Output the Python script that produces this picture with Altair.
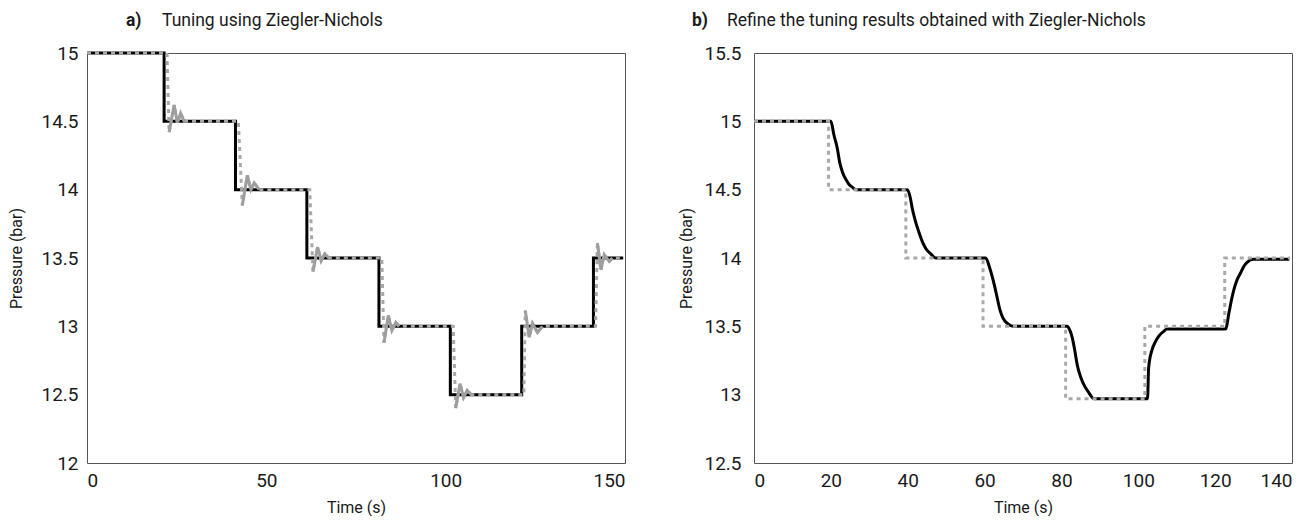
import altair as alt
import pandas as pd

FONT = "Roboto"

# ---------------- Panel a: Ziegler-Nichols tuning ----------------
a_title = ["a)", "Tuning using Ziegler-Nichols"]
a_x_ticks = [0, 50, 100, 150]
a_y_ticks = [12, 12.5, 13, 13.5, 14, 14.5, 15]

# set point (black, step)
a_sp_t = [0, 21.5, 41.4, 61.3, 81.4, 101.3, 121.2, 141.2, 149.5]
a_sp_p = [15, 14.5, 14, 13.5, 13, 12.5, 13, 13.5, 13.5]

# measured pressure (gray dashed, oscillating)
a_pv_t = [0, 22.3, 22.9, 24.3, 25.2, 26.1, 27.1,
          42.2, 43.3, 44.7, 45.7, 46.6, 48.0,
          62.1, 63.0, 64.3, 65.3, 66.3, 67.5,
          82.2, 82.8, 84.0, 85.0, 86.1, 87.0,
          102.1, 102.8, 104.0, 105.0, 106.0, 107.2,
          121.8, 122.2, 123.3, 124.2, 125.6, 127.0,
          141.8, 142.3, 143.3, 144.2, 145.6, 146.5, 149.5]
a_pv_p = [15, 15, 14.42, 14.62, 14.49, 14.56, 14.5,
          14.5, 13.885, 14.105, 14.0, 14.05, 14.0,
          14.0, 13.4, 13.58, 13.48, 13.53, 13.5,
          13.5, 12.88, 13.08, 12.97, 13.03, 13.0,
          13.0, 12.4, 12.58, 12.48, 12.53, 12.5,
          12.5, 13.115, 12.92, 13.02, 12.955, 13.0,
          13.0, 13.61, 13.415, 13.525, 13.475, 13.5, 13.5]
# oscillation burst each point belongs to (-1 = steady / step edge)
a_pv_osc = [-1, -1, 0, 0, 0, 0, 0,
            -1, 1, 1, 1, 1, 1,
            -1, 2, 2, 2, 2, 2,
            -1, 3, 3, 3, 3, 3,
            -1, 4, 4, 4, 4, 4,
            -1, 5, 5, 5, 5, 5,
            -1, 6, 6, 6, 6, 6, -1]

# ---------------- Panel b: refined tuning ----------------
b_title = ["b)", "Refine the tuning results obtained with Ziegler-Nichols"]
b_x_ticks = [0, 20, 40, 60, 80, 100, 120, 140]
b_y_ticks = [12.5, 13, 13.5, 14, 14.5, 15, 15.5]

# set point (gray dashed, step)
b_sp_t = [0, 19.4, 39.5, 59.6, 81.1, 101.7, 122.5, 139.5]
b_sp_p = [15, 14.5, 14, 13.5, 12.97, 13.5, 14, 14]

# measured pressure (black, smooth)
b_pv_t = [0, 20.0, 20.8, 21.7, 22.3, 23.0, 24.0, 24.7, 25.5, 26.5,
          39.9, 40.6, 41.2, 42.0, 42.9, 43.8, 44.7, 46.0, 47.3,
          60.3, 61.3, 62.3, 63.2, 64.0, 64.8, 66.0, 67.5,
          81.5, 82.2, 82.8, 83.5, 84.1, 85.0, 85.9, 87.0, 88.5,
          102.4, 102.7, 103.6, 104.5, 105.4, 106.5, 107.5,
          122.7, 123.6, 124.3, 124.9, 125.7, 126.6, 127.5, 128.4, 129.9, 139.3]
b_pv_p = [15, 15, 14.9, 14.8, 14.7, 14.63, 14.57, 14.54, 14.52, 14.5,
          14.5, 14.45, 14.36, 14.27, 14.19, 14.12, 14.07, 14.03, 14.0,
          14.0, 13.93, 13.83, 13.72, 13.62, 13.56, 13.52, 13.5,
          13.5, 13.47, 13.42, 13.32, 13.22, 13.13, 13.07, 13.02, 12.97,
          12.97, 13.2, 13.33, 13.39, 13.43, 13.46, 13.48,
          13.48, 13.6, 13.7, 13.77, 13.84, 13.89, 13.94, 13.97, 13.99, 13.99]

W, H = 538, 410
BLACK = "#000000"
GRAY = "#a8a8a8"
GRAY_OSC = "#9e9e9e"
TXT = "#1a1a1a"


def panel(sp_t, sp_p, pv_t, pv_p, osc, xdom, ydom, xt, yt, title, black_is_sp,
          lab_x, txt_x, ylabpad, ytitlepad):
    sp = pd.DataFrame({"t": sp_t, "p": sp_p})
    pv = pd.DataFrame({"t": pv_t, "p": pv_p})
    x = alt.X("t:Q", scale=alt.Scale(domain=xdom, nice=False, zero=False),
              axis=alt.Axis(values=xt, title="Time (s)", format="~r",
                            labelPadding=8, titlePadding=9))
    y = alt.Y("p:Q", scale=alt.Scale(domain=ydom, nice=False, zero=False),
              axis=alt.Axis(values=yt, title="Pressure (bar)", format="~r",
                            labelPadding=ylabpad, titlePadding=ytitlepad))
    layers = []
    if black_is_sp:
        layers.append(alt.Chart(sp).mark_line(color=BLACK, strokeWidth=3,
                                              interpolate="step-after").encode(x=x, y=y))
        layers.append(alt.Chart(pv).mark_line(color=GRAY, strokeWidth=3,
                                              strokeDash=[4, 4]).encode(x="t:Q", y="p:Q"))
        od = pd.DataFrame({"t": pv_t, "p": pv_p, "g": osc})
        od = od[od["g"] >= 0]
        layers.append(alt.Chart(od).mark_line(color=GRAY_OSC, strokeWidth=3).encode(
            x="t:Q", y="p:Q", detail="g:N"))
    else:
        layers.append(alt.Chart(pv).mark_line(color=BLACK, strokeWidth=3,
                                              interpolate="monotone").encode(x=x, y=y))
        layers.append(alt.Chart(sp).mark_line(color=GRAY, strokeWidth=3, strokeDash=[4, 4],
                                              interpolate="step-after").encode(x="t:Q", y="p:Q"))
    tdf = pd.DataFrame({"label": [title[0]]})
    tdf2 = pd.DataFrame({"label": [title[1]]})
    layers.append(alt.Chart(tdf).mark_text(align="left", baseline="alphabetic", font=FONT,
                                           fontSize=17.5, fontWeight="bold", color=TXT).encode(
        x=alt.value(lab_x), y=alt.value(-27), text="label:N"))
    layers.append(alt.Chart(tdf2).mark_text(align="left", baseline="alphabetic", font=FONT,
                                            fontSize=17.5, color=TXT).encode(
        x=alt.value(txt_x), y=alt.value(-27), text="label:N"))
    return alt.layer(*layers).properties(width=W, height=H)


pa = panel(a_sp_t, a_sp_p, a_pv_t, a_pv_p, a_pv_osc, [0, 150], [12, 15], a_x_ticks,
           a_y_ticks, a_title, True, 39, 75, 9, 16)
pb = panel(b_sp_t, b_sp_p, b_pv_t, b_pv_p, None, [0, 140], [12.5, 15.5], b_x_ticks,
           b_y_ticks, b_title, False, -62, -27, 13, 9)

chart = alt.hconcat(pa, pb, spacing=129, bounds="flush").properties(
    padding={"left": 0, "top": 3, "right": 5, "bottom": 0}
).configure_view(
    stroke="#555555", strokeWidth=1
).configure_axis(
    labelFont=FONT, labelFontSize=19, labelColor=TXT,
    titleFont=FONT, titleFontSize=16, titleFontWeight="normal", titleColor=TXT,
    ticks=False, domain=False, grid=False
)

chart.save("out.html", embed_options={"renderer": "svg", "actions": False})
